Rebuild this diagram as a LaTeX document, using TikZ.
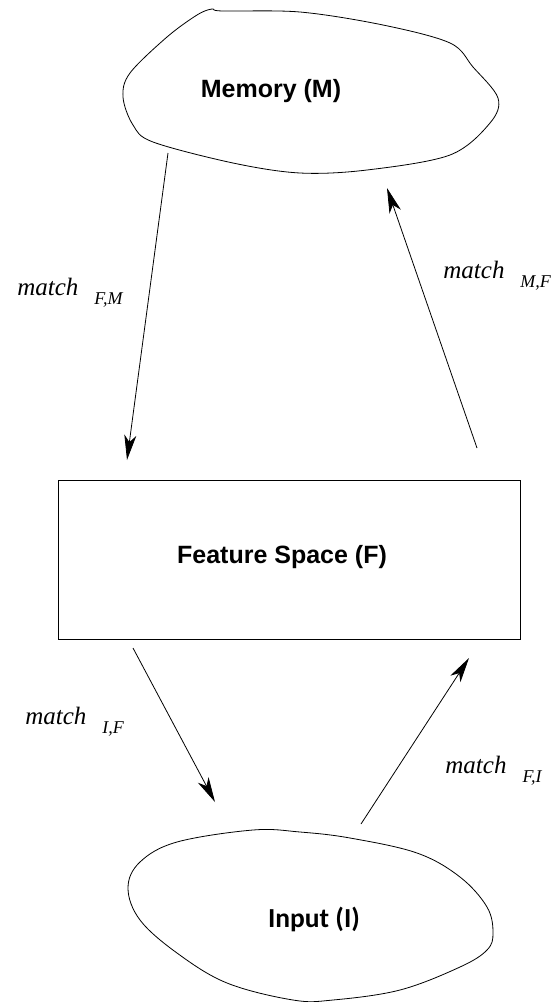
\documentclass[tikz,border=0pt]{standalone}
\usepackage{fontspec}
\setmainfont{Liberation Serif}
\newfontfamily\boxfont{Liberation Sans}
\newfontfamily\inputfont{Carlito}
\usetikzlibrary{arrows.meta}

\tikzstyle{shapetext} = [font=\boxfont\bfseries\fontsize{25}{25}\selectfont, inner sep=0pt, anchor=base]
\tikzstyle{inputtext} = [font=\inputfont\bfseries\fontsize{27.5}{27.5}\selectfont, inner sep=0pt, anchor=base]
\tikzstyle{spacebox} = [draw, minimum width=462pt, minimum height=159pt, inner sep=0pt]
\tikzstyle{matchlbl} = [font=\itshape\fontsize{25}{25}\selectfont, inner sep=0pt, anchor=base west]
\tikzstyle{flow} = [-{Stealth[length=25pt, width=12pt, inset=7pt]}]

\newcommand{\matchsub}[1]{match\hspace{16pt}\raisebox{-9pt}{\fontsize{18}{18}\selectfont #1}}

\begin{document}
\begin{tikzpicture}[x=1pt, y=-1pt, line width=0.8pt]
\useasboundingbox (0,0) rectangle (556,1002);

% memory blob
\draw plot[smooth cycle, tension=0.55] coordinates {
    (212,9) (222,11) (300,12) (383,25) (450,43) (473,67) (498,98)
    (490,123) (450,155) (367,170) (300,173) (233,163) (153,142)
    (133,125) (123,97) (130,73) (167,37) (197,15)};
\node[shapetext] (mem) at (271,97) {Memory (M)};

% feature space
\node[spacebox] (feat) at (289,559.5) {};
\node[shapetext] (feattext) at (282,563) {Feature Space (F)};

% input egg
\draw plot[smooth cycle, tension=0.6] coordinates {
    (253,830) (177,842) (140,862) (128,888) (140,920) (177,953)
    (227,983) (293,1000) (333,1000) (400,990) (460,967) (487,950)
    (493,933) (487,907) (460,877) (417,853) (350,838) (300,832)};
\node[inputtext] (inp) at (314,927) {Input (I)};

% arrow ends
\coordinate (memout) at (168,153);
\coordinate (featin) at (127,460);
\coordinate (featout) at (477,448);
\coordinate (memin) at (387,188);
\coordinate (featdown) at (133,648);
\coordinate (inpin) at (215,802);
\coordinate (inpout) at (361,824);
\coordinate (featup) at (469,658);

\draw[flow] (memout) -- (featin);
\draw[flow] (featout) -- (memin);
\draw[flow] (featdown) -- (inpin);
\draw[flow] (inpout) -- (featup);

% labels
\node[matchlbl] (lblFM) at (17,295) {\matchsub{F,M}};
\node[matchlbl] (lblMF) at (443,278) {\matchsub{M,F}};
\node[matchlbl] (lblIF) at (25,724) {\matchsub{I,F}};
\node[matchlbl] (lblFI) at (445,773) {\matchsub{F,I}};
\end{tikzpicture}
\end{document}
